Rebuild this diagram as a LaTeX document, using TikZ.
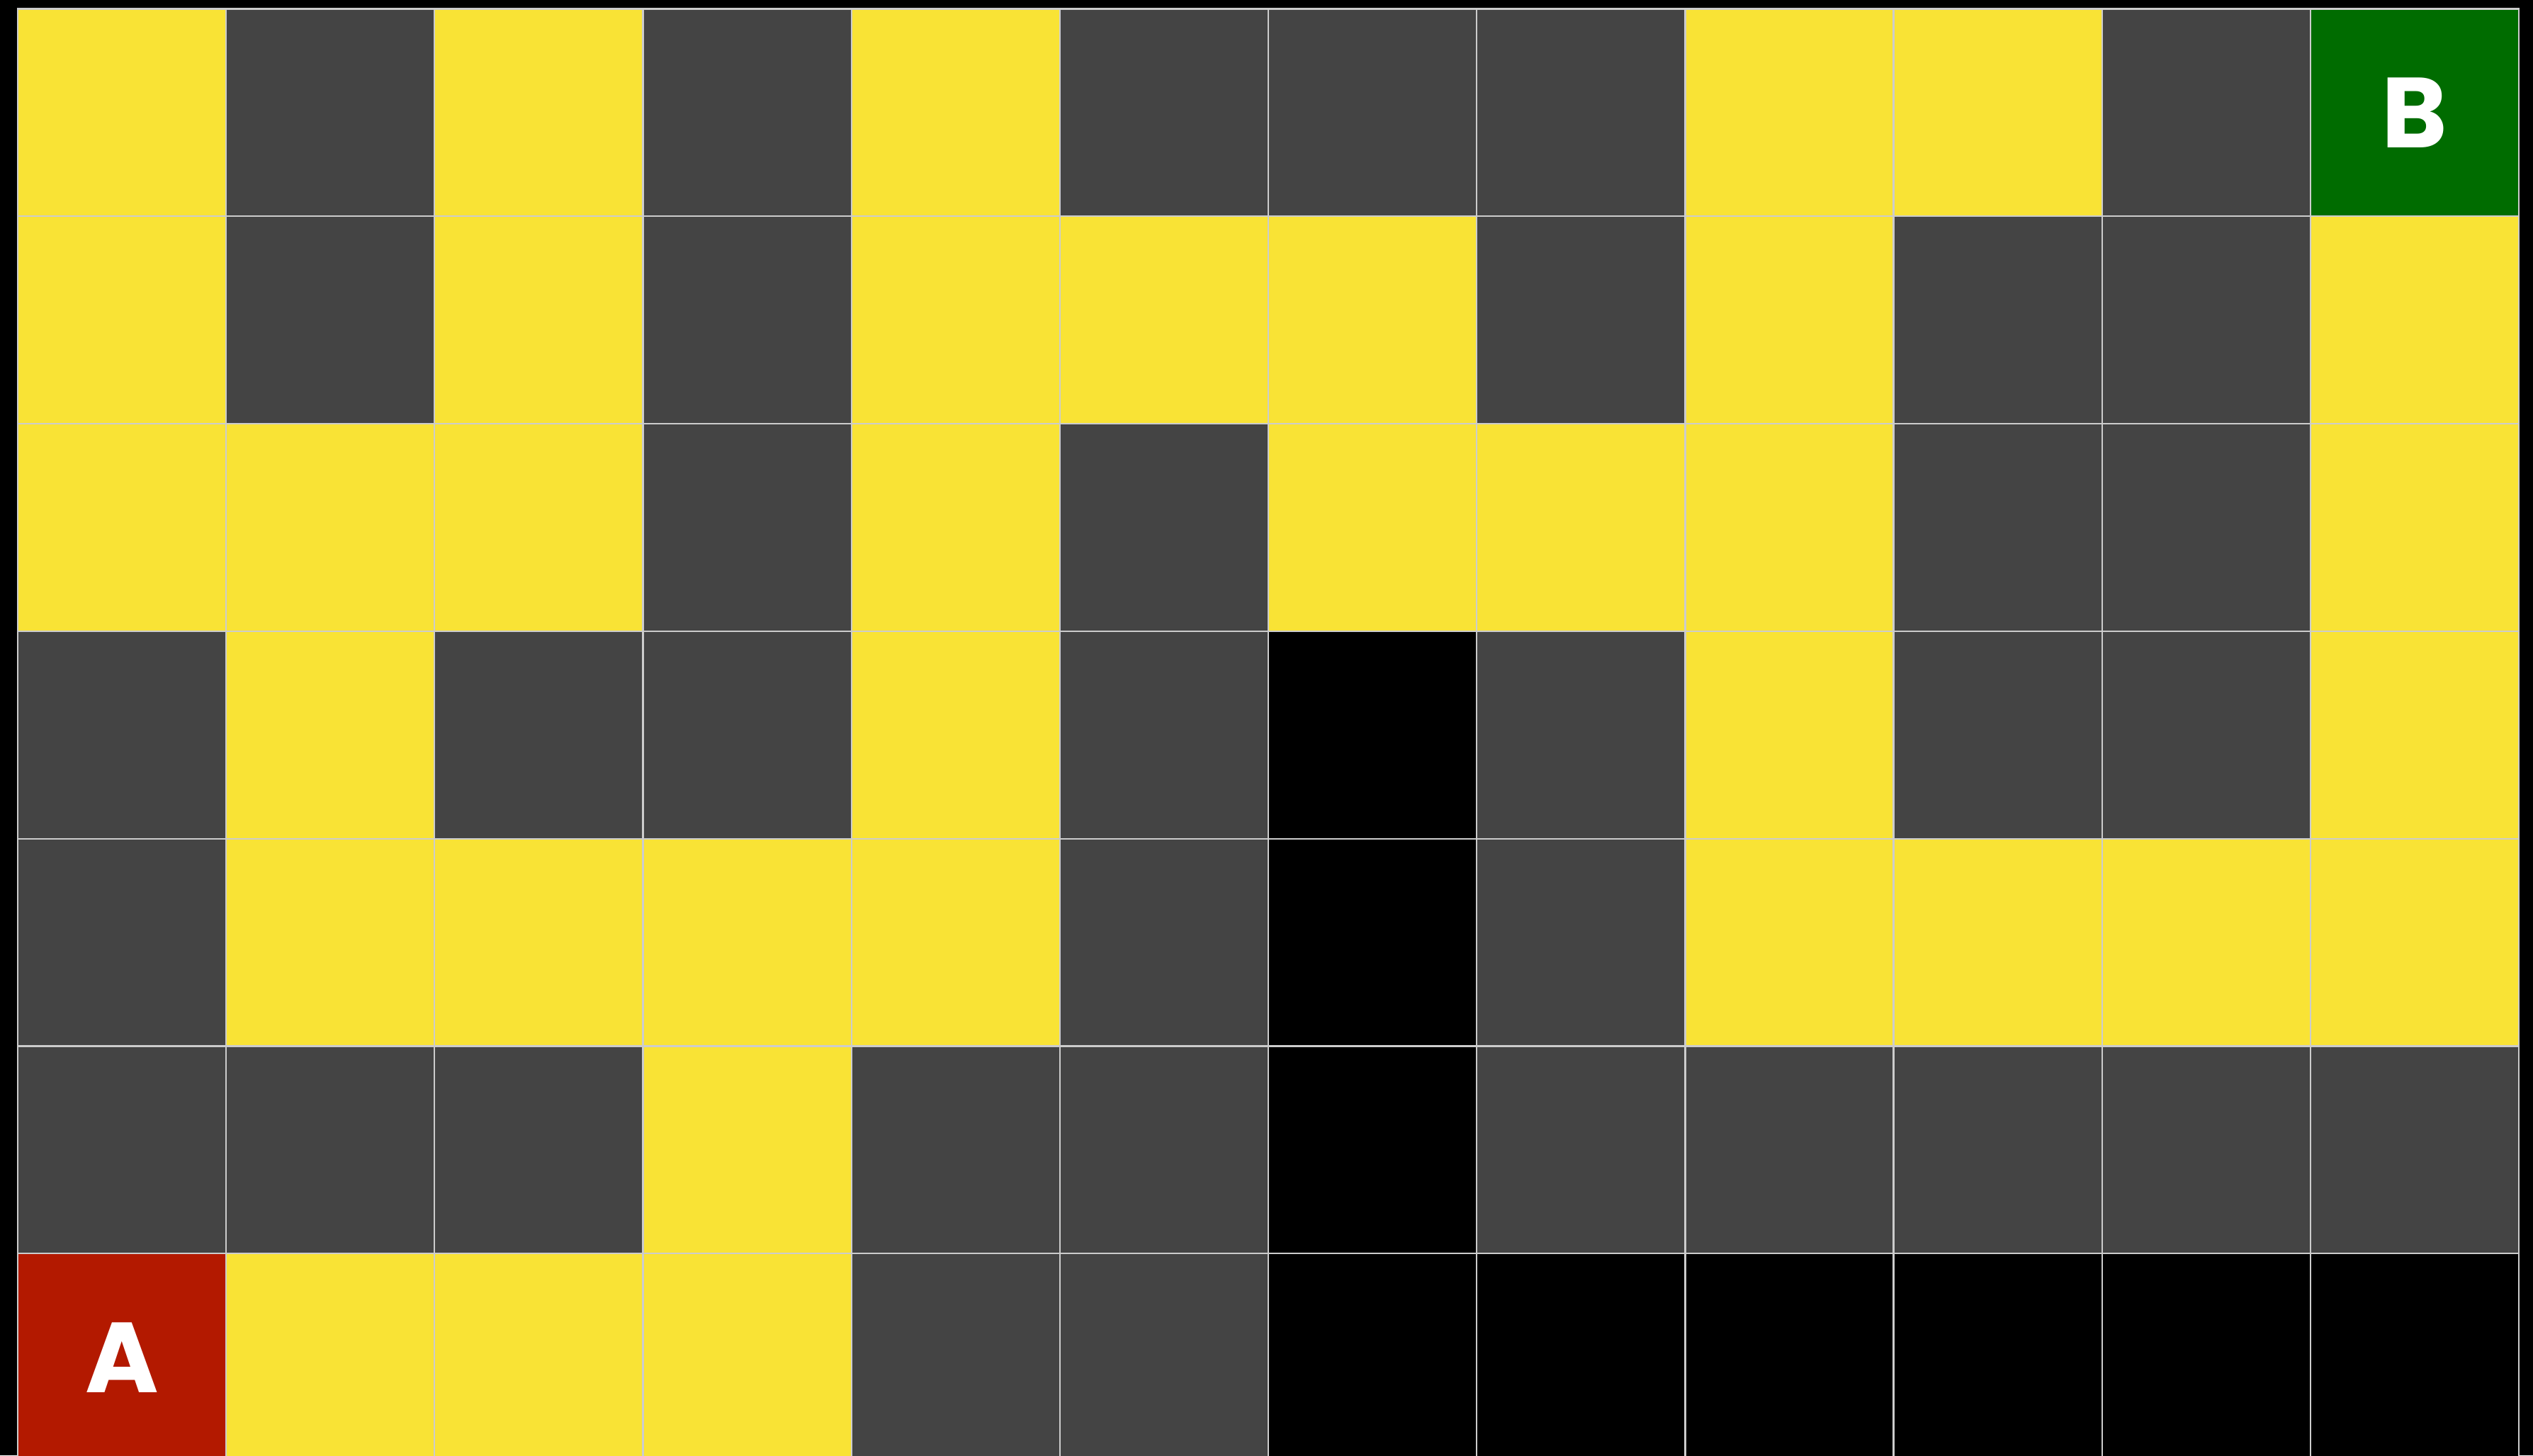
\documentclass[tikz,border=0pt]{standalone}
\usepackage{fontspec}
\setmainfont{Poppins}[BoldFont={* Bold}]
\definecolor{Y}{RGB}{249,227,53}
\definecolor{D}{RGB}{68,68,68}
\definecolor{K}{RGB}{0,0,0}
\definecolor{R}{RGB}{179,25,0}
\definecolor{G}{RGB}{0,108,0}
\definecolor{gridline}{RGB}{204,204,204}
\tikzset{
    cell/.style={draw=gridline, line width=0.65pt, inner sep=0pt,
        minimum width=2.9417cm, minimum height=2.928cm},
    endlabel/.style={text=white, font=\fontsize{40}{40}\selectfont\bfseries}
}
\begin{document}
\begin{tikzpicture}
    \def\cellW{2.9417}
    \def\cellH{2.928}
    \def\gridX{0.25}
    \def\gridY{20.415}

    \fill[black] (0,0) rectangle (35.75,20.54);
    \useasboundingbox (0,0) rectangle (35.75,20.54);

    % rows from top to bottom
    \foreach \row [count=\r] in {
        {Y,D,Y,D,Y,D,D,D,Y,Y,D,G},
        {Y,D,Y,D,Y,Y,Y,D,Y,D,D,Y},
        {Y,Y,Y,D,Y,D,Y,Y,Y,D,D,Y},
        {D,Y,D,D,Y,D,K,D,Y,D,D,Y},
        {D,Y,Y,Y,Y,D,K,D,Y,Y,Y,Y},
        {D,D,D,Y,D,D,K,D,D,D,D,D},
        {R,Y,Y,Y,D,D,K,K,K,K,K,K}}{
        \foreach \c [count=\i] in \row {
            \node[cell, fill=\c] (c-\r-\i) at ({\gridX+(\i-0.5)*\cellW},{\gridY-(\r-0.5)*\cellH}) {};
        }
    }

    \node[endlabel] (start) at (c-7-1) {A};
    \node[endlabel] (goal) at (c-1-12) {B};
\end{tikzpicture}
\end{document}
